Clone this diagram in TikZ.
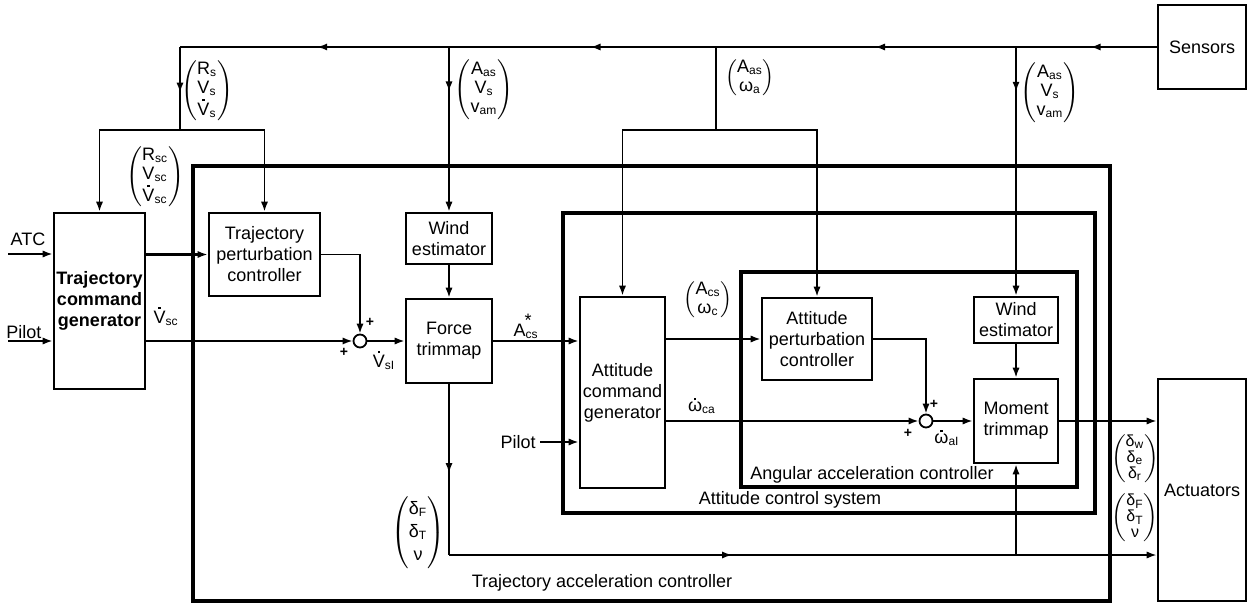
\documentclass[tikz,border=0pt]{standalone}
\usepackage{fontspec}
\setmainfont{Liberation Sans}
\usetikzlibrary{arrows.meta,decorations.markings}
\tikzset{
  wire/.style={line width=0.9pt},
  tip/.style={-{Latex[length=5pt,width=3.6pt]}},
  midarr/.style={postaction={decorate},decoration={markings,mark=at position #1 with {\arrow{Latex[length=5pt,width=3.6pt]}}}},
  grp/.style={line width=2pt},
  blk/.style={draw,line width=1.3pt,align=center,inner sep=1pt},
  sumnode/.style={circle,draw,line width=0.9pt,minimum size=6.5pt,inner sep=0pt},
  pl/.style={font=\fontsize{7}{7}\selectfont\bfseries,inner sep=0pt},
  lbl/.style={inner sep=1pt}
}
\newcommand\blkat[6]{\node[blk, minimum width={(#4-#2)*0.5pt}, minimum height={(#5-#3)*0.5pt}] (#1) at ({(#2+#4)/2},{(#3+#5)/2}) {#6};}
\newcommand\pmat[2][1]{$\left(\def\arraystretch{#1}\begin{tabular}{@{}c@{}}#2\end{tabular}\right)$}
\newcommand\sub[1]{\textsubscript{#1}}
\newcommand\dacc[1]{\leavevmode\vbox{\offinterlineskip\halign{\hfil##\hfil\cr\rule{0.14em}{0.14em}\cr\noalign{\kern0.1em}#1\cr}}}
\begin{document}
\begin{tikzpicture}[x=0.5pt,y=-0.5pt,font=\fontsize{9}{10.5}\selectfont]
\useasboundingbox (0,0) rectangle (1256,603);
% group boxes
\draw[grp] (193,166) rectangle (1110,601);
\draw[grp] (563,213) rectangle (1095,513);
\draw[grp] (741,272) rectangle (1077,487);
% blocks
\blkat{sensors}{1158}{5}{1246}{89}{Sensors}
\blkat{tcg}{54}{213}{145}{389}{\bfseries Trajectory\\\bfseries command\\\bfseries generator}
\blkat{tpc}{209}{213}{320}{296}{Trajectory\\perturbation\\controller}
\blkat{we1}{406}{213}{492}{264}{Wind\\estimator}
\blkat{ftm}{406}{299}{492}{383}{Force\\trimmap}
\blkat{acg}{580}{297}{665}{488}{Attitude\\command\\generator}
\blkat{apc}{762}{298}{872}{380}{Attitude\\perturbation\\controller}
\blkat{we2}{974}{297}{1058}{343}{Wind\\estimator}
\blkat{mtm}{974}{379}{1058}{463}{Moment\\trimmap}
\blkat{act}{1158}{379}{1246}{601}{Actuators}
% summing junctions
\node[sumnode] (sum1) at (360,341) {};
\node[sumnode] (sum2) at (926,421) {};
% junction coordinates
\coordinate (j1) at (1016,47);
\coordinate (j2) at (716,47);
\coordinate (j3) at (449,47);
\coordinate (j4) at (180,47);
\coordinate (j5) at (180,130);
\coordinate (j7) at (716,130);
\coordinate (j6) at (449,555);
\coordinate (atc) at (8,254);
\coordinate (pil1) at (8,341);
\coordinate (pil2) at (540,442);
% sensor bus
\draw[wire,midarr=0.47] (sensors.west) -- (j1);
\draw[wire,midarr=0.47] (j1) -- (j2);
\draw[wire,midarr=0.47] (j2) -- (j3);
\draw[wire,midarr=0.49] (j3) -- (j4);
\draw[wire,midarr=0.55] (j4) -- (j5);
\draw[wire,tip] (j5) -| (tcg.north);
\draw[wire,tip] (j5) -| (tpc.north);
\draw[wire,tip,midarr=0.27] (j3) -- (we1.north);
\draw[wire,tip,midarr=0.18] (j1) -- (we2.north);
\draw[wire] (j2) -- (j7);
\draw[wire,tip] (j7) -| (acg.north);
\draw[wire,tip] (j7) -| (apc.north);
% trajectory loop
\draw[wire,tip] (atc) -- (atc -| tcg.west);
\draw[wire,tip] (pil1) -- (pil1 -| tcg.west);
\draw[wire,tip,line width=1.2pt] (tcg.east |- tpc.west) -- (tpc.west);
\draw[wire,tip] (tpc.east) -| (sum1.north);
\draw[wire,tip] (tcg.east |- sum1.west) -- (sum1.west);
\draw[wire,tip] (sum1.east) -- (sum1.east -| ftm.west);
\draw[wire,tip] (we1.south) -- (ftm.north);
\draw[wire,tip] (ftm.east) -- (ftm.east -| acg.west);
\draw[wire,midarr=0.52] (ftm.south) -- (j6);
\draw[wire,tip,midarr=0.40] (j6) -- (j6 -| act.west);
\draw[wire,tip] (mtm.south |- j6) -- (mtm.south);
% attitude loop
\draw[wire,tip] (pil2) -- (pil2 -| acg.west);
\draw[wire,tip] (acg.east |- apc.west) -- (apc.west);
\draw[wire,tip] (acg.east |- sum2.west) -- (sum2.west);
\draw[wire,tip] (apc.east) -| (sum2.north);
\draw[wire,tip] (sum2.east) -- (mtm.west);
\draw[wire,tip] (we2.south) -- (mtm.north);
\draw[wire,tip] (mtm.east) -- (mtm.east -| act.west);
% labels
\node[lbl] (lATC) at (28,239) {ATC};
\node[lbl] (lP1) at (24,332) {Pilot};
\node[lbl,anchor=east] (lP2) at (538,442) {Pilot};
\node[lbl] (lVsc) at (166,316) {\dacc{V}\sub{sc}};
\node[lbl] (lVsI) at (384,360) {\dacc{V}\sub{sI}};
\node[lbl] (lAcs) at (526,326) {A\rlap{\raisebox{0.55em}{\kern-0.05em*}}\sub{cs}};
\node[lbl] (lwca) at (702,406) {\dacc{ω}\sub{ca}};
\node[lbl] (lwaI) at (947,438) {\dacc{ω}\sub{aI}};
\node[pl] (p1) at (370,322) {+};
\node[pl] (p2) at (344,352) {+};
\node[pl] (p3) at (934,404) {+};
\node[pl] (p4) at (908,433) {+};
\node[lbl] (mRs) at (207,91) {\pmat[0.9]{R\sub{s}\\V\sub{s}\\\dacc{V}\sub{s}}};
\node[lbl] (mRsc) at (155,177) {\pmat[0.9]{R\sub{sc}\\V\sub{sc}\\\dacc{V}\sub{sc}}};
\node[lbl] (mA1) at (484,90) {\pmat[0.9]{A\sub{as}\\V\sub{s}\\v\sub{am}}};
\node[lbl] (mA2) at (750,78) {\pmat[0.9]{A\sub{as}\\ω\sub{a}}};
\node[lbl] (mA3) at (1050,93) {\pmat[0.9]{A\sub{as}\\V\sub{s}\\v\sub{am}}};
\node[lbl] (mAc) at (708,300) {\pmat[0.9]{A\sub{cs}\\ω\sub{c}}};
\node[lbl] (mdF1) at (418,533) {\pmat[1.1]{δ\sub{F}\\δ\sub{T}\\ν}};
\node[lbl,inner sep=0pt,font=\fontsize{8}{9}\selectfont] (mdw) at (1135,459) {\pmat[0.85]{δ\sub{w}\\δ\sub{e}\\δ\sub{r}}};
\node[lbl,inner sep=0pt,font=\fontsize{8}{9}\selectfont] (mdF2) at (1135,518) {\pmat[0.85]{δ\sub{F}\\δ\sub{T}\\ν}};
\node[lbl] (gTAC) at (602,583) {Trajectory acceleration controller};
\node[lbl] (gACS) at (790,500) {Attitude control system};
\node[lbl] (gAAC) at (872,475) {Angular acceleration controller};
\end{tikzpicture}
\end{document}
